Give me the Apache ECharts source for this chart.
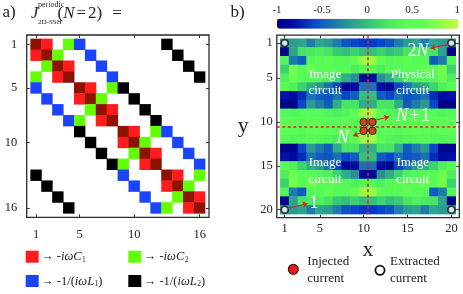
<!DOCTYPE html>
<html><head><meta charset="utf-8">
<script src="https://cdn.jsdelivr.net/npm/echarts@6/dist/echarts.min.js"></script>
<style>html,body{margin:0;padding:0;background:#fff}#c{width:463px;height:294px}</style>
</head><body><div id="c"></div>
<script>
// ---------- data: panel a (16x16 admittance matrix pattern) ----------
// codes: 0 empty, 1 diagonal, 2 -iwC1, 3 -iwC2, 4 -1/(iwL1), 5 -1/(iwL2)
const matrixCategories = ['1','2','3','4','5','6','7','8','9','10','11','12','13','14','15','16'];
const matrixTicks = [1, 5, 10, 16];
const matrixRows = [
  [1,2,0,3,4,0,0,0,0,0,0,0,5,0,0,0],
  [2,1,3,0,0,4,0,0,0,0,0,0,0,5,0,0],
  [0,3,1,2,0,0,4,0,0,0,0,0,0,0,5,0],
  [3,0,2,1,0,0,0,4,0,0,0,0,0,0,0,5],
  [4,0,0,0,1,2,0,3,5,0,0,0,0,0,0,0],
  [0,4,0,0,2,1,3,0,0,5,0,0,0,0,0,0],
  [0,0,4,0,0,3,1,2,0,0,5,0,0,0,0,0],
  [0,0,0,4,3,0,2,1,0,0,0,5,0,0,0,0],
  [0,0,0,0,5,0,0,0,1,2,0,3,4,0,0,0],
  [0,0,0,0,0,5,0,0,2,1,3,0,0,4,0,0],
  [0,0,0,0,0,0,5,0,0,3,1,2,0,0,4,0],
  [0,0,0,0,0,0,0,5,3,0,2,1,0,0,0,4],
  [5,0,0,0,0,0,0,0,4,0,0,0,1,2,0,3],
  [0,5,0,0,0,0,0,0,0,4,0,0,2,1,3,0],
  [0,0,5,0,0,0,0,0,0,0,4,0,0,3,1,2],
  [0,0,0,5,0,0,0,0,0,0,0,4,3,0,2,1]
];
const elementColors = ['#ffffff', '#8e1200', '#ff1c1c', '#62ff00', '#1c44ff', '#000000'];

// ---------- data: panel b (20x20 field map) ----------
const fieldCategories = ['1','2','3','4','5','6','7','8','9','10','11','12','13','14','15','16','17','18','19','20'];
const fieldTicks = [1, 5, 10, 15, 20];
const fieldRows = [
  [-0.2,-0.2,-0.15,-0.35,-0.15,-0.2,-0.35,-0.55,-0.6,-0.65,-0.65,-0.6,-0.55,-0.35,-0.2,-0.15,-0.35,-0.15,-0.2,-0.2],
  [-0.95,-0.15,0.2,0.25,0.3,0.2,0.05,0,0.1,0,0,0.1,0,0.05,0.2,0.3,0.25,0.2,-0.15,-0.95],
  [0.35,-0.35,-0.5,0.4,0.45,0.6,0.45,0.4,0.6,0.85,0.85,0.6,0.4,0.45,0.6,0.45,0.4,-0.5,-0.35,0.35],
  [0.1,0.7,0.45,0.65,0.5,0.5,0.45,0.4,0.3,0.4,0.4,0.3,0.4,0.45,0.5,0.5,0.65,0.45,0.7,0.1],
  [0.3,0.65,0.45,0.4,0.35,0.3,0.1,-0.1,-0.25,-0.9,-0.9,-0.25,-0.1,0.1,0.3,0.35,0.4,0.45,0.65,0.3],
  [0.45,0.3,0.1,-0.1,-0.2,-0.4,-0.6,-0.9,-0.85,-0.4,-0.4,-0.85,-0.9,-0.6,-0.4,-0.2,-0.1,0.1,0.3,0.45],
  [-0.8,-0.85,-0.7,-0.4,-0.5,-0.55,-0.4,-0.6,-0.5,0,0,-0.5,-0.6,-0.4,-0.55,-0.5,-0.4,-0.7,-0.85,-0.8],
  [-0.95,-0.95,-0.6,-0.2,-0.35,-0.5,-0.1,0.2,0.2,-0.1,-0.1,0.2,0.2,-0.1,-0.5,-0.35,-0.2,-0.6,-0.95,-0.95],
  [0.4,0.35,0.4,0.45,0.4,0.35,0.3,0.35,0.5,0.85,0.85,0.5,0.35,0.3,0.35,0.4,0.45,0.4,0.35,0.4],
  [0.55,0.5,0.45,0.5,0.55,0.5,0.45,0.5,0.45,0.5,0.5,0.45,0.5,0.45,0.5,0.55,0.5,0.45,0.5,0.55],
  [0.55,0.5,0.45,0.5,0.55,0.5,0.45,0.5,0.45,0.5,0.5,0.45,0.5,0.45,0.5,0.55,0.5,0.45,0.5,0.55],
  [0.4,0.35,0.4,0.45,0.4,0.35,0.3,0.35,0.5,0.85,0.85,0.5,0.35,0.3,0.35,0.4,0.45,0.4,0.35,0.4],
  [-0.95,-0.95,-0.6,-0.2,-0.35,-0.5,-0.1,0.2,0.2,-0.1,-0.1,0.2,0.2,-0.1,-0.5,-0.35,-0.2,-0.6,-0.95,-0.95],
  [-0.8,-0.85,-0.7,-0.4,-0.5,-0.55,-0.4,-0.6,-0.5,0,0,-0.5,-0.6,-0.4,-0.55,-0.5,-0.4,-0.7,-0.85,-0.8],
  [0.45,0.3,0.1,-0.1,-0.2,-0.4,-0.6,-0.9,-0.85,-0.4,-0.4,-0.85,-0.9,-0.6,-0.4,-0.2,-0.1,0.1,0.3,0.45],
  [0.3,0.65,0.45,0.4,0.35,0.3,0.1,-0.1,-0.25,-0.9,-0.9,-0.25,-0.1,0.1,0.3,0.35,0.4,0.45,0.65,0.3],
  [0.1,0.7,0.45,0.65,0.5,0.5,0.45,0.4,0.3,0.4,0.4,0.3,0.4,0.45,0.5,0.5,0.65,0.45,0.7,0.1],
  [0.35,-0.35,-0.5,0.4,0.45,0.6,0.45,0.4,0.6,0.85,0.85,0.6,0.4,0.45,0.6,0.45,0.4,-0.5,-0.35,0.35],
  [-0.95,-0.15,0.2,0.25,0.3,0.2,0.05,0,0.1,0,0,0.1,0,0.05,0.2,0.3,0.25,0.2,-0.15,-0.95],
  [-0.2,-0.2,-0.15,-0.35,-0.15,-0.2,-0.35,-0.55,-0.6,-0.65,-0.65,-0.6,-0.55,-0.35,-0.2,-0.15,-0.35,-0.15,-0.2,-0.2]
];
const colorbarTicks = [-1, -0.5, 0, 0.5, 1];
const fieldColors = ['#000080','#0010a8','#0848c8','#1a72b4','#2a9a92','#34c07a','#48e462','#55fa58','#5eff52','#8cff48','#c4ff3c'];
const injectedNodes = [[10,10],[11,10],[10,11],[11,11]];
const extractedNodes = [[1,1],[20,1],[1,20],[20,20]];
const midLine = 10.5;
const arrows = [
  [[19.7,1.15],[17.6,1.6]],
  [[11.3,9.8],[12.9,9.4]],
  [[9.7,11.2],[8.8,11.6]],
  [[1.35,19.85],[3.6,19.3]]
];

// ---------- layout ----------
const FONT = '"Liberation Serif", "Times New Roman", serif';
const TXT = '#222';
const A = {x: 26.7, y: 35, w: 182.3, h: 182.3, m: 3.9, n: 16};
const B = {x: 276.8, y: 35.2, w: 182.5, h: 182.4, m: 3.5, n: 20};
function inner(P) { return {left: P.x + P.m, top: P.y + P.m, width: P.w - 2 * P.m, height: P.h - 2 * P.m}; }
function ext(P, len) { const u = (len - 2 * P.m) / P.n; return [0.5 - P.m / u, P.n + 0.5 + P.m / u]; }
const aX = ext(A, A.w), aY = ext(A, A.h), bX = ext(B, B.w), bY = ext(B, B.h);

const matrixData = [];
matrixRows.forEach((row, r) => row.forEach((v, c) => { if (v > 0) matrixData.push([c, r, v]); }));
const fieldData = [];
fieldRows.forEach((row, r) => row.forEach((v, c) => fieldData.push([c, r, v])));

function valAxis(grid, pos, range, ticks, showLabel, margin, extra) {
  return Object.assign({
    type: 'value', gridIndex: grid, position: pos, min: range[0], max: range[1],
    inverse: pos === 'left' || pos === 'right',
    axisLine: {show: false}, splitLine: {show: false},
    axisTick: {show: true, inside: true, length: 3, customValues: ticks, lineStyle: {color: '#333', width: 1}},
    axisLabel: {show: showLabel, customValues: ticks, margin: margin, fontFamily: FONT, fontSize: 12.5, color: TXT}
  }, extra || {});
}

const option = {
  animation: false,
  backgroundColor: '#fff',
  grid: [
    Object.assign(inner(A), {show: false}),
    {left: A.x, top: A.y, width: A.w, height: A.h, show: true, borderColor: '#2a2a2a', borderWidth: 1.3, backgroundColor: 'transparent'},
    Object.assign(inner(B), {show: false}),
    {left: B.x, top: B.y, width: B.w, height: B.h, show: true, borderColor: '#2a2a2a', borderWidth: 1.3, backgroundColor: 'transparent'},
    {left: 277, top: 18.7, width: 181.5, height: 10, show: false}
  ],
  xAxis: [
    {type: 'category', gridIndex: 0, data: matrixCategories, show: false},
    valAxis(1, 'bottom', aX, matrixTicks, true, 10.5),
    valAxis(1, 'top', aX, matrixTicks, false, 8),
    {type: 'category', gridIndex: 2, data: fieldCategories, show: false},
    valAxis(3, 'bottom', bX, fieldTicks, true, 4.5, {name: 'x', nameLocation: 'middle', nameGap: 13,
      nameTextStyle: {fontFamily: FONT, fontSize: 21, color: TXT}}),
    valAxis(3, 'top', bX, fieldTicks, false, 8),
    {type: 'value', gridIndex: 4, position: 'top', min: -1, max: 1, interval: 0.5,
      axisLine: {show: false}, splitLine: {show: false}, axisTick: {show: false},
      axisLabel: {margin: 3.5, fontFamily: FONT, fontSize: 11, color: TXT,
        formatter: v => String(v)}}
  ],
  yAxis: [
    {type: 'category', gridIndex: 0, data: matrixCategories, show: false, inverse: true},
    valAxis(1, 'left', aY, matrixTicks, true, 9.5),
    valAxis(1, 'right', aY, matrixTicks, false, 8),
    {type: 'category', gridIndex: 2, data: fieldCategories, show: false, inverse: true},
    valAxis(3, 'left', bY, fieldTicks, true, 4, {name: 'y', nameLocation: 'middle', nameGap: 28, nameRotate: 0,
      nameTextStyle: {fontFamily: FONT, fontSize: 22, color: TXT}}),
    valAxis(3, 'right', bY, fieldTicks, false, 8),
    {type: 'value', gridIndex: 4, show: false, min: 0, max: 1}
  ],
  visualMap: [
    {type: 'piecewise', seriesIndex: 0, dimension: 2, show: false,
      pieces: [1,2,3,4,5].map(k => ({value: k, color: elementColors[k]}))},
    {type: 'continuous', seriesIndex: 1, dimension: 2, min: -1, max: 1, orient: 'horizontal',
      left: 277, top: 18.7, itemWidth: 10, itemHeight: 181.5, padding: 0, calculable: false,
      hoverLink: false, inRange: {color: fieldColors}}
  ],
  series: [
    {type: 'heatmap', xAxisIndex: 0, yAxisIndex: 0, data: matrixData, silent: true},
    {type: 'heatmap', xAxisIndex: 3, yAxisIndex: 3, data: fieldData, silent: true},
    {type: 'scatter', xAxisIndex: 4, yAxisIndex: 4, data: injectedNodes, symbolSize: 7.5, z: 5, silent: true,
      itemStyle: {color: '#ee1414', borderColor: '#111', borderWidth: 1},
      markLine: {silent: true, symbol: 'none', label: {show: false},
        lineStyle: {color: '#e82020', type: [3, 2.5], width: 1.6},
        data: [{xAxis: midLine}, {yAxis: midLine}]}},
    {type: 'scatter', xAxisIndex: 4, yAxisIndex: 4, data: extractedNodes, symbolSize: 7, z: 5, silent: true,
      itemStyle: {color: '#fff', borderColor: '#111', borderWidth: 1.8}},
    {type: 'lines', coordinateSystem: 'cartesian2d', xAxisIndex: 4, yAxisIndex: 4, silent: true, z: 6,
      symbol: ['none', 'arrow'], symbolSize: 5,
      lineStyle: {color: '#d82020', width: 1, opacity: 1},
      data: arrows.map(a => ({coords: a}))}
  ],
  graphic: []
};

function T(x, y, text, size, extra) {
  return {type: 'text', x: x, y: y, silent: true, z: 100,
    style: Object.assign({text: text, fontFamily: FONT, fontSize: size, fill: TXT, align: 'left', verticalAlign: 'middle'}, extra || {})};
}
const G = option.graphic;
// panel a title
G.push(T(2.5, 13, 'a)', 17));
G.push(T(31, 13.5, 'J', 16.5, {fontStyle: 'italic'}));
G.push(T(38, 4.8, 'periodic', 8));
G.push(T(38, 22, '2D-SSH', 7));
G.push(T(57.5, 14, '{r|(}{i|N}{e|=}{r|2)}{e2|=}', 17, {rich: {
  r: {fontFamily: FONT, fontSize: 17, fill: TXT},
  i: {fontFamily: FONT, fontSize: 17, fill: TXT, fontStyle: 'italic'},
  e: {fontFamily: FONT, fontSize: 17, fill: TXT, padding: [0, 2, 0, 2]},
  e2: {fontFamily: FONT, fontSize: 17, fill: TXT, padding: [0, 0, 0, 10]}
}}));
// panel b label
G.push(T(230.5, 13, 'b)', 17));

// legend a
const legA = [
  {x: 25.7, y: 250.7, c: 2, t: '{a|→ -}{i|iωC}{s|1}'},
  {x: 128.3, y: 250.7, c: 3, t: '{a|→ -}{i|iωC}{s|2}'},
  {x: 25.7, y: 275, c: 4, t: '{a|→ -1/(}{i|iωL}{s|1}{a|)}'},
  {x: 128.3, y: 275, c: 5, t: '{a|→ -1/(}{i|iωL}{s|2}{a|)}'}
];
const richA = {
  a: {fontFamily: FONT, fontSize: 12.5, fill: TXT, lineHeight: 14},
  i: {fontFamily: FONT, fontSize: 12.5, fill: TXT, fontStyle: 'italic', lineHeight: 14},
  s: {fontFamily: FONT, fontSize: 7.5, fill: TXT, lineHeight: 8, padding: [5, 0, 0, 0.5], verticalAlign: 'bottom'}
};
legA.forEach(l => {
  G.push({type: 'rect', silent: true, shape: {x: l.x, y: l.y, width: 13, height: 12}, style: {fill: elementColors[l.c]}});
  G.push(T(l.x + 15.5, l.y + 6.5, l.t, 12.5, {rich: richA}));
});

// annotations in panel b
const glow = {fill: '#fff', shadowColor: 'rgba(225,255,170,0.9)', shadowBlur: 7, align: 'center', lineHeight: 16.7};
G.push(T(325, 82.7, 'Image\ncircuit', 13, glow));
G.push(T(412.7, 82.7, 'Physical\ncircuit', 13, glow));
G.push(T(325, 171.3, 'Image\ncircuit', 13, glow));
G.push(T(412.7, 171.3, 'Image\ncircuit', 13, glow));
const richW = {
  r: {fontFamily: FONT, fontSize: 18, fill: '#fff'},
  i: {fontFamily: FONT, fontSize: 18, fill: '#fff', fontStyle: 'italic'},
  p: {fontFamily: FONT, fontSize: 18, fill: '#fff', padding: [0, 1.5, 0, 1.5]}
};
const glowS = {shadowColor: 'rgba(225,255,170,0.9)', shadowBlur: 6, align: 'center', rich: richW};
G.push(T(418, 51.7, '{r|2}{i|N}', 18, glowS));
G.push(T(413, 116, '{i|N}{p|+}{r|1}', 18, glowS));
G.push(T(342.7, 138.3, '{i|N}', 18, glowS));
G.push(T(314, 203.3, '{r|1}', 17, glowS));

// legend b
G.push({type: 'circle', silent: true, shape: {cx: 293.3, cy: 269.3, r: 5}, style: {fill: '#ee1414', stroke: '#111', lineWidth: 1.1}});
G.push(T(307.3, 270.3, 'Injected\ncurrent', 13, {lineHeight: 17}));
G.push({type: 'circle', silent: true, shape: {cx: 380, cy: 270.3, r: 4.6}, style: {fill: '#fff', stroke: '#111', lineWidth: 1.8}});
G.push(T(390, 270.3, 'Extracted\ncurrent', 13, {lineHeight: 17}));

const chart = echarts.init(document.getElementById('c'), null, {renderer: 'canvas'});
chart.setOption(option);
</script></body></html>
